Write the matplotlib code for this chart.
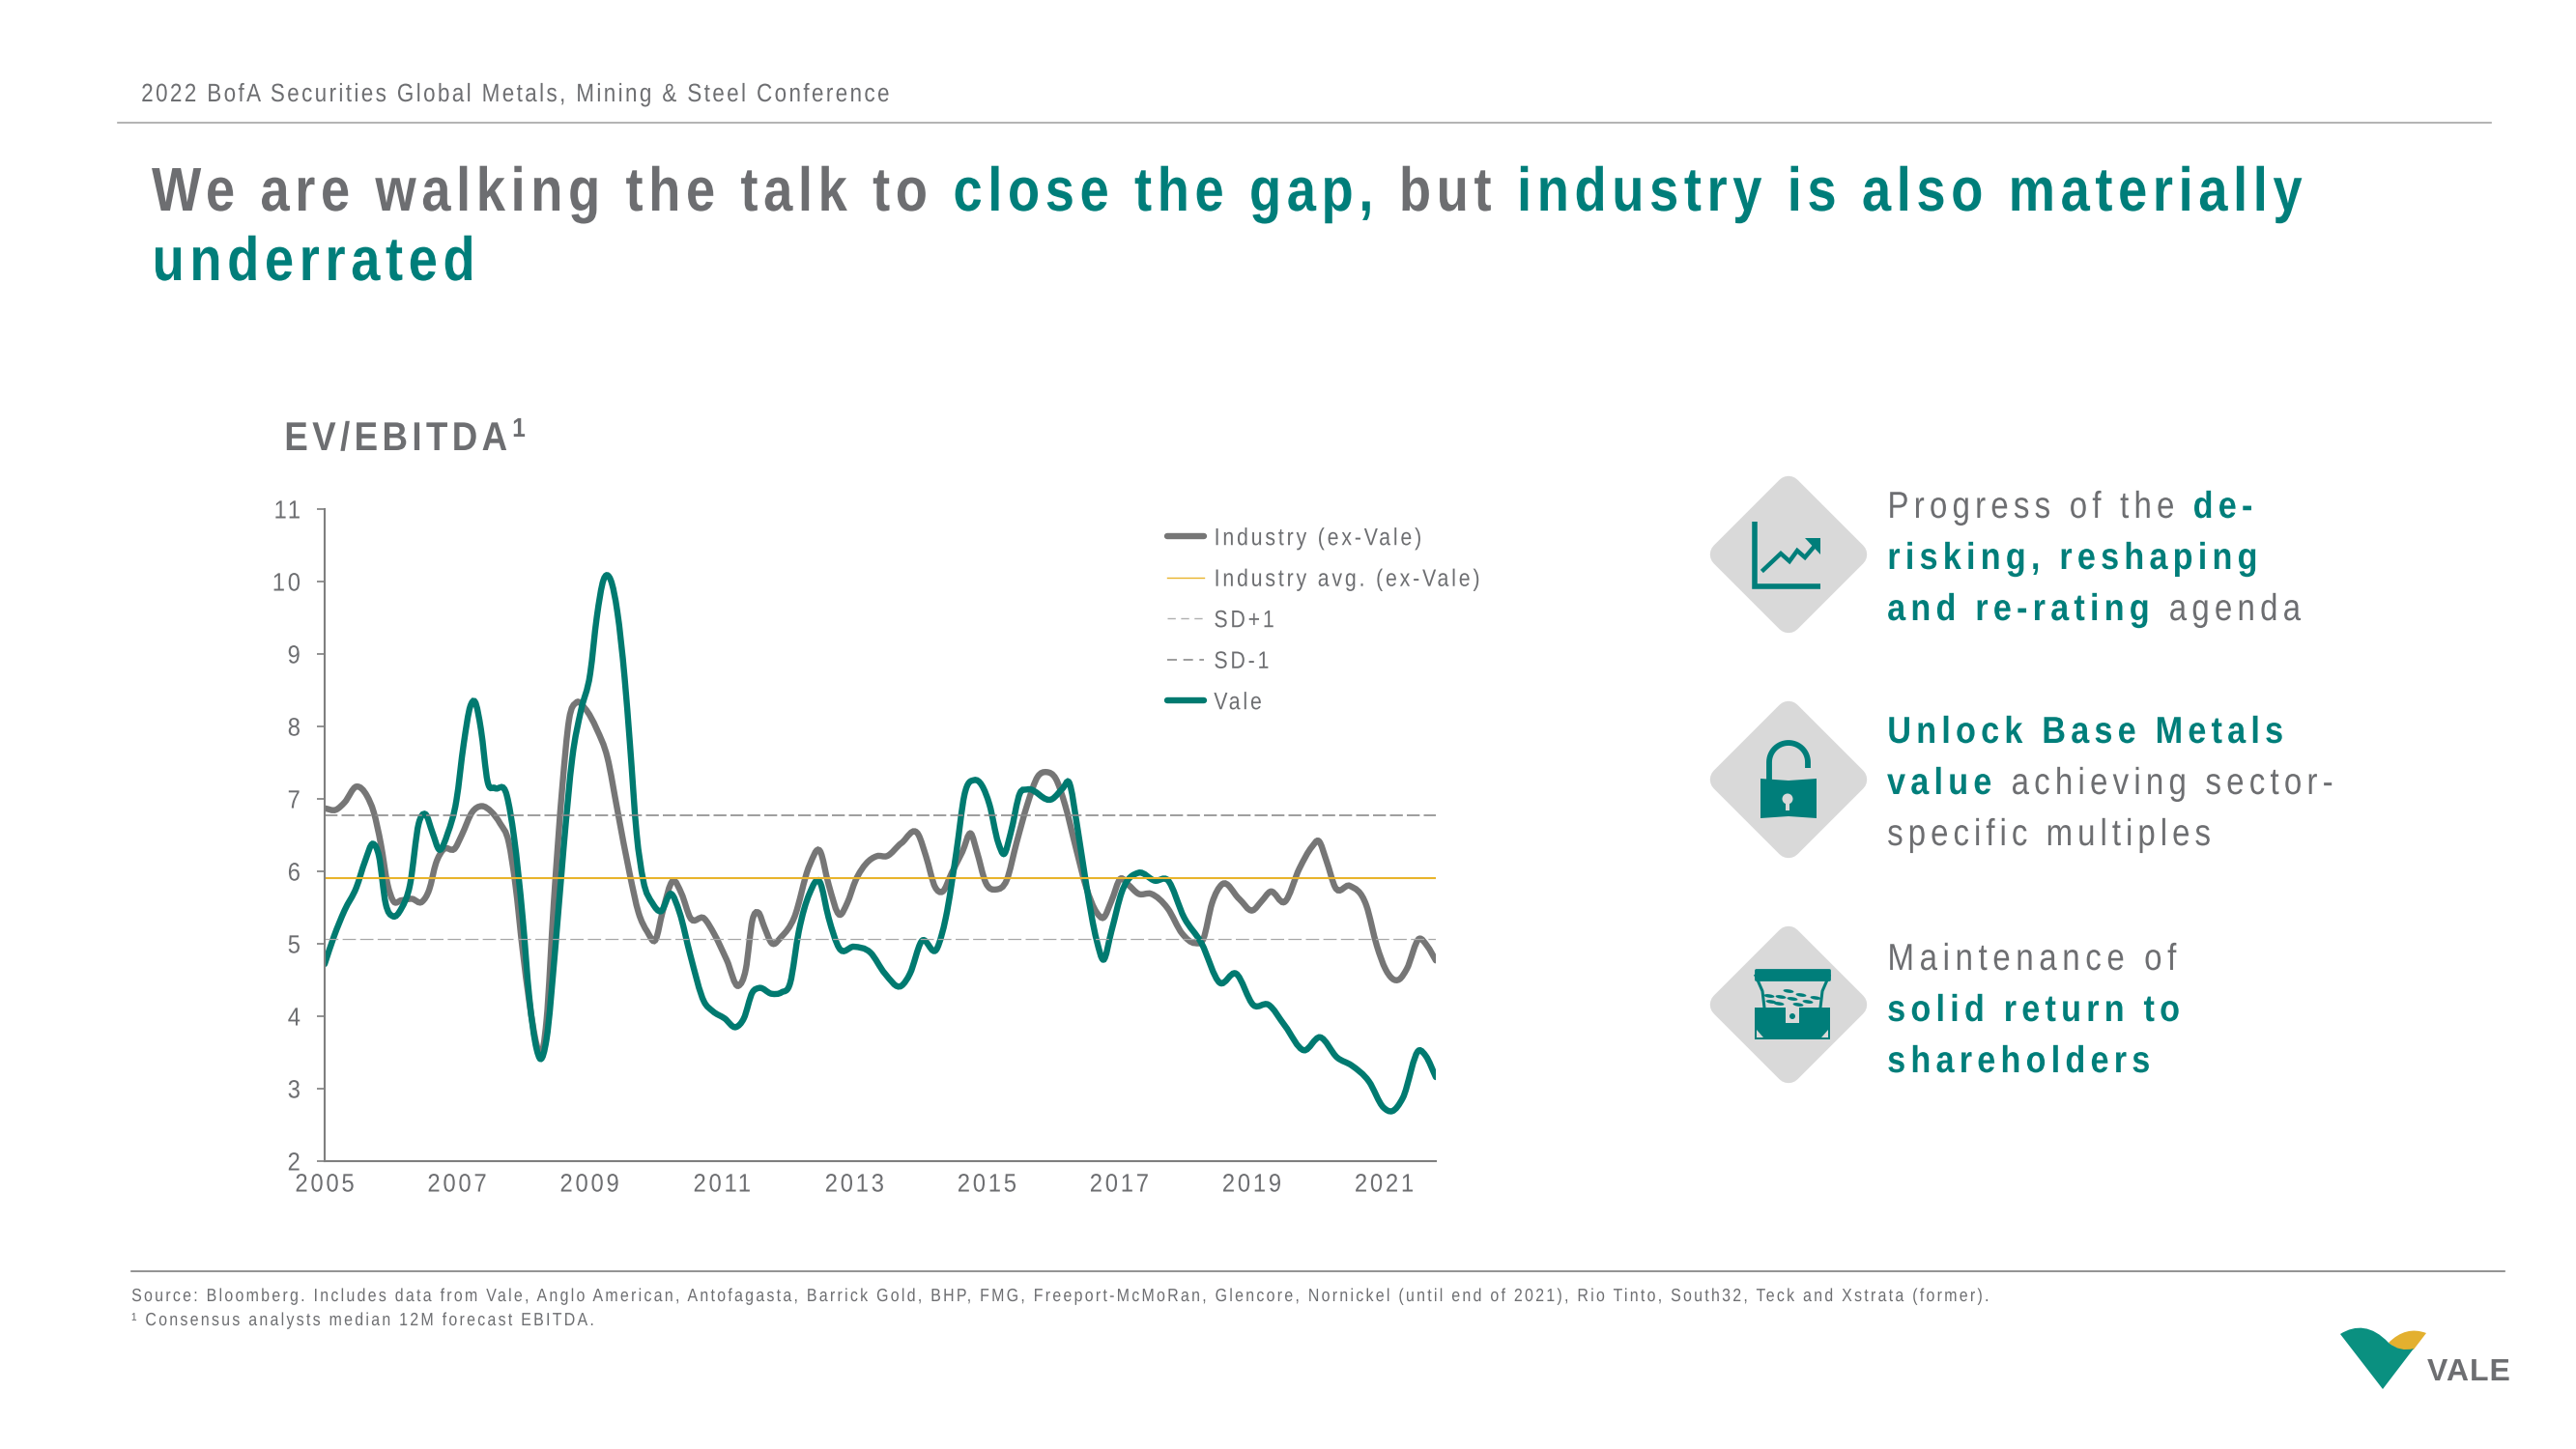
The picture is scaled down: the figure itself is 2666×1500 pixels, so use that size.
import numpy as np
import matplotlib
matplotlib.use("Agg")
import matplotlib.pyplot as plt
from matplotlib.lines import Line2D
from matplotlib.patches import PathPatch, Polygon, Rectangle, Circle, Ellipse
from matplotlib.path import Path
from matplotlib.patheffects import AbstractPathEffect
from matplotlib.transforms import IdentityTransform

plt.rcParams["font.family"] = ["Liberation Sans", "DejaVu Sans"]

# colours
GREY = "#6d6e71"
TEAL = "#007e7a"
LINE_TEAL = "#007a70"
LINE_GREY = "#767676"
GOLD = "#e9b42c"
DIAMOND = "#d9d9d9"

# data
industry_years = [2005.00, 2005.17, 2005.30, 2005.48, 2005.64, 2005.74, 2005.85, 2005.95, 2006.03, 2006.16,
                  2006.32, 2006.47, 2006.58, 2006.68, 2006.79, 2006.97, 2007.07, 2007.23, 2007.37, 2007.52,
                  2007.65, 2007.78, 2007.88, 2007.99, 2008.09, 2008.20, 2008.26, 2008.35, 2008.46, 2008.59,
                  2008.69, 2008.80, 2008.93, 2009.11, 2009.27, 2009.42, 2009.61, 2009.74, 2009.87, 2010.00,
                  2010.10, 2010.26, 2010.39, 2010.52, 2010.73, 2010.88, 2011.07, 2011.25, 2011.36, 2011.46,
                  2011.55, 2011.64, 2011.75, 2011.90, 2012.09, 2012.32, 2012.48, 2012.61, 2012.78, 2012.89,
                  2013.02, 2013.18, 2013.34, 2013.49, 2013.71, 2013.97, 2014.08, 2014.22, 2014.33, 2014.47,
                  2014.63, 2014.76, 2014.85, 2014.98, 2015.14, 2015.30, 2015.45, 2015.61, 2015.77, 2015.90,
                  2016.04, 2016.18, 2016.34, 2016.50, 2016.66, 2016.76, 2016.88, 2017.02, 2017.13, 2017.29,
                  2017.48, 2017.73, 2017.95, 2018.14, 2018.27, 2018.40, 2018.55, 2018.81, 2019.01, 2019.15,
                  2019.28, 2019.50, 2019.72, 2019.91, 2020.01, 2020.13, 2020.26, 2020.48, 2020.73, 2020.89,
                  2021.02, 2021.23, 2021.34, 2021.53, 2021.65, 2021.78]
industry_values = [6.87, 6.85, 6.95, 7.17, 7.04, 6.82, 6.37, 5.82, 5.60, 5.60,
                   5.62, 5.58, 5.75, 6.11, 6.30, 6.32, 6.50, 6.82, 6.90, 6.82,
                   6.66, 6.40, 5.82, 4.91, 4.20, 3.61, 3.45, 3.94, 5.56, 7.18,
                   8.09, 8.33, 8.25, 7.96, 7.57, 6.85, 5.95, 5.43, 5.17, 5.06,
                   5.43, 5.87, 5.69, 5.36, 5.35, 5.14, 4.78, 4.42, 4.65, 5.33,
                   5.43, 5.23, 5.01, 5.10, 5.36, 6.08, 6.28, 5.82, 5.40, 5.56,
                   5.88, 6.11, 6.21, 6.21, 6.39, 6.50, 6.21, 5.78, 5.72, 5.98,
                   6.27, 6.52, 6.27, 5.85, 5.75, 5.88, 6.40, 6.92, 7.31, 7.37,
                   7.28, 6.92, 6.34, 5.78, 5.43, 5.36, 5.59, 5.90, 5.82, 5.69,
                   5.69, 5.49, 5.14, 5.01, 5.07, 5.56, 5.82, 5.62, 5.46, 5.59,
                   5.72, 5.58, 6.04, 6.34, 6.42, 6.14, 5.78, 5.80, 5.53, 4.97,
                   4.65, 4.51, 4.65, 5.07, 4.97, 4.77]

vale_years = [2005.00, 2005.14, 2005.30, 2005.48, 2005.61, 2005.73, 2005.82, 2005.92, 2006.03, 2006.16,
              2006.29, 2006.42, 2006.52, 2006.63, 2006.73, 2006.86, 2006.99, 2007.10, 2007.20, 2007.27,
              2007.36, 2007.46, 2007.57, 2007.75, 2007.86, 2007.99, 2008.09, 2008.20, 2008.26, 2008.35,
              2008.48, 2008.61, 2008.74, 2008.87, 2009.01, 2009.11, 2009.21, 2009.32, 2009.42, 2009.53,
              2009.61, 2009.71, 2009.81, 2009.95, 2010.08, 2010.23, 2010.36, 2010.52, 2010.73, 2010.86,
              2011.04, 2011.21, 2011.33, 2011.46, 2011.56, 2011.75, 2011.90, 2012.03, 2012.16, 2012.32,
              2012.48, 2012.61, 2012.77, 2012.99, 2013.24, 2013.46, 2013.71, 2013.84, 2014.01, 2014.25,
              2014.38, 2014.54, 2014.66, 2014.81, 2015.04, 2015.17, 2015.26, 2015.36, 2015.50, 2015.61,
              2015.99, 2016.15, 2016.24, 2016.37, 2016.50, 2016.66, 2016.76, 2016.88, 2017.04, 2017.29,
              2017.54, 2017.73, 2017.98, 2018.24, 2018.52, 2018.76, 2019.03, 2019.25, 2019.50, 2019.79,
              2020.03, 2020.29, 2020.51, 2020.77, 2020.99, 2021.12, 2021.28, 2021.53, 2021.63, 2021.78]
vale_values = [4.72, 5.10, 5.46, 5.78, 6.14, 6.38, 6.21, 5.56, 5.38, 5.49,
               5.82, 6.66, 6.79, 6.53, 6.30, 6.53, 6.98, 7.76, 8.28, 8.34,
               7.96, 7.24, 7.15, 7.05, 6.47, 5.36, 4.26, 3.55, 3.41, 3.68,
               4.91, 6.34, 7.57, 8.22, 8.73, 9.51, 10.02, 10.02, 9.58, 8.67,
               7.76, 6.53, 5.88, 5.56, 5.45, 5.69, 5.43, 4.85, 4.20, 4.07,
               3.97, 3.85, 3.97, 4.33, 4.39, 4.31, 4.33, 4.46, 5.17, 5.69,
               5.85, 5.36, 4.94, 4.96, 4.88, 4.59, 4.42, 4.59, 5.03, 4.94,
               5.36, 6.27, 7.05, 7.26, 6.92, 6.40, 6.24, 6.53, 7.08, 7.13,
               7.00, 7.15, 7.23, 6.59, 5.82, 5.04, 4.78, 5.17, 5.72, 5.98,
               5.87, 5.88, 5.36, 5.01, 4.46, 4.59, 4.15, 4.16, 3.87, 3.53,
               3.71, 3.43, 3.32, 3.10, 2.74, 2.69, 2.87, 3.53, 3.45, 3.16]

industry_avg = 5.91
sd_plus = 6.77
sd_minus = 5.07

year_ticks = [2005, 2007, 2009, 2011, 2013, 2015, 2017, 2019, 2021]
value_ticks = [2, 3, 4, 5, 6, 7, 8, 9, 10, 11]
legend_labels = ["Industry (ex-Vale)", "Industry avg. (ex-Vale)", "SD+1", "SD-1", "Vale"]

header_text = "2022 BofA Securities Global Metals, Mining & Steel Conference"
source_text = ("Source: Bloomberg. Includes data from Vale, Anglo American, Antofagasta, Barrick Gold, BHP, FMG, "
               "Freeport-McMoRan, Glencore, Nornickel (until end of 2021), Rio Tinto, South32, Teck and Xstrata (former).")
note_text = "¹ Consensus analysts median 12M forecast EBITDA."

NARROW = 0.85  # the slide font is a narrow face with wide tracking


class Tracked(AbstractPathEffect):
    # matplotlib has no letter spacing, so squeeze and spread the glyphs at draw time
    def __init__(self, track, em, align=0.0, sx=NARROW):
        super().__init__()
        self.track, self.em, self.align, self.sx = track, em, align, sx

    def draw_path(self, renderer, gc, tpath, affine, rgbFace=None):
        v = affine.transform(tpath.vertices)
        codes = tpath.codes
        starts = np.flatnonzero(codes == Path.MOVETO)
        if len(starts) == 0:
            return
        real = codes != Path.CLOSEPOLY
        x0, x1 = v[real, 0].min(), v[real, 0].max()
        v[:, 0] = x0 + (v[:, 0] - x0) * self.sx
        ends = np.append(starts[1:], len(codes))
        offs = np.zeros(len(v))
        n, right = 0, None
        for s, e in zip(starts, ends):
            xs = v[s:e][codes[s:e] != Path.CLOSEPOLY, 0]
            lo, hi = xs.min(), xs.max()
            if right is None or (lo + hi) / 2 >= right:
                if right is not None:
                    n += 2 if lo - right > 0.17 * self.em else 1
                right = hi
            else:
                right = max(right, hi)
            offs[s:e] = n * self.track
        new_width = (x1 - x0) * self.sx + n * self.track
        v[:, 0] += offs + self.align * ((x1 - x0) - new_width)
        renderer.draw_path(gc, Path(v, codes), IdentityTransform(), rgbFace)


def smooth_path(x, y):
    # the chart lines are smoothed, so join the read values with bezier pieces
    x, y = np.asarray(x), np.asarray(y)
    m = np.gradient(y, x)
    verts, codes = [(x[0], y[0])], [Path.MOVETO]
    for i in range(len(x) - 1):
        h = x[i + 1] - x[i]
        verts += [(x[i] + h / 3, y[i] + m[i] * h / 3), (x[i + 1] - h / 3, y[i + 1] - m[i + 1] * h / 3), (x[i + 1], y[i + 1])]
        codes += [Path.CURVE4] * 3
    return Path(verts, codes)


fig = plt.figure(figsize=(26.66, 15), dpi=100)

# slide furniture lives in a full size axes in pixels
bg = fig.add_axes([0, 0, 1, 1])
bg.set_xlim(0, 2666)
bg.set_ylim(1500, 0)
bg.axis("off")
renderer = fig.canvas.get_renderer()


def runs(x, y, parts, size, track, sx=NARROW):
    # parts: (text, colour, weight), drawn one after the other on one baseline
    em = size * 100 / 72
    for s, color, weight in parts:
        run_sx = sx + 0.03 if weight == "bold" else sx
        t = bg.text(x, y, s, color=color, fontsize=size, fontweight=weight, va="baseline", ha="left")
        t.set_path_effects([Tracked(track, em, sx=run_sx)])
        x += t.get_window_extent(renderer).width * run_sx + track * (len(s) - 1) + 0.28 * em * run_sx + 2 * track


# header and title
runs(146, 105, [(header_text, GREY, "normal")], 19, 2.39)
bg.plot([122, 2578], [127, 127], color="#a6a6a6", lw=1.2)
runs(157, 218, [("We are walking the talk to", GREY, "bold"), ("close the gap,", TEAL, "bold"),
                ("but", GREY, "bold"), ("industry is also materially", TEAL, "bold")], 46, 5.6, sx=0.82)
runs(157, 290, [("underrated", TEAL, "bold")], 46, 5.6, sx=0.82)

# chart heading
runs(294, 466, [("EV/EBITDA", GREY, "bold")], 30, 4.4)
runs(530, 452, [("1", GREY, "bold")], 20, 0)

# chart
ax = fig.add_axes([336 / 2666, 1 - 1202 / 1500, (1486 - 336) / 2666, (1202 - 527) / 1500])
ax.patch.set_alpha(0)
ax.set_xlim(2005, 2021.78)
ax.set_ylim(2, 11)
ax.add_patch(PathPatch(smooth_path(industry_years, industry_values), fill=False, ec=LINE_GREY, lw=4.6, capstyle="round"))
ax.axhline(industry_avg, color=GOLD, lw=1.5)
ax.axhline(sd_plus, color="#8c8c8c", lw=1.2, dashes=(8, 2.5))
ax.axhline(sd_minus, color="#a8a8a8", lw=0.9, dashes=(11, 3.5))
ax.add_patch(PathPatch(smooth_path(vale_years, vale_values), fill=False, ec=LINE_TEAL, lw=4.6, capstyle="round"))

for side in ["top", "right"]:
    ax.spines[side].set_visible(False)
for side in ["left", "bottom"]:
    ax.spines[side].set_color("#7f7f7f")
    ax.spines[side].set_linewidth(1.5)
ax.set_xticks(year_ticks)
ax.set_xticklabels(year_ticks)
ax.set_yticks(value_ticks)
ax.tick_params(axis="x", length=0, pad=9, labelsize=19, labelcolor=GREY)
ax.tick_params(axis="y", length=6, width=1.2, color="#7f7f7f", pad=12, labelsize=19, labelcolor=GREY)
for lab in ax.get_xticklabels():
    lab.set_path_effects([Tracked(2.8, 26, 0.5, sx=0.9)])
for lab in ax.get_yticklabels():
    lab.set_path_effects([Tracked(2.8, 26, 1.0, sx=0.9)])

handles = [Line2D([], [], color=LINE_GREY, lw=4.6, solid_capstyle="round"),
           Line2D([], [], color=GOLD, lw=1.0),
           Line2D([], [], color="#b0b0b0", lw=1.0, dashes=(6, 4)),
           Line2D([], [], color="#8c8c8c", lw=1.2, dashes=(6, 4)),
           Line2D([], [], color=LINE_TEAL, lw=4.6, solid_capstyle="round")]
leg = ax.legend(handles, legend_labels, loc="upper left", bbox_to_anchor=(0.7585, 0.973), frameon=False, fontsize=18,
                handlelength=1.5, handletextpad=0.42, labelspacing=0.74, borderaxespad=0, borderpad=0)
for t in leg.get_texts():
    t.set_color(GREY)
    t.set_path_effects([Tracked(2.85, 25)])

# right hand column
for cy in [574, 807, 1040]:
    bg.add_patch(Polygon([(1851, cy - 68), (1919, cy), (1851, cy + 68), (1783, cy)], fc=DIAMOND, ec=DIAMOND,
                         lw=19, joinstyle="round"))

# rising chart icon
cx, cy = 1851, 574
bg.plot([cx - 35, cx - 35, cx + 33], [cy - 34, cy + 33, cy + 33], color=TEAL, lw=4, solid_joinstyle="miter", solid_capstyle="butt")
bg.plot([cx - 26, cx - 8, cx + 1, cx + 9, cx + 17, cx + 28], [cy + 16, cy - 1, cy + 7, cy - 4, cy + 3, cy - 10],
        color=TEAL, lw=3.2, solid_joinstyle="miter")
bg.add_patch(Polygon([(cx + 17, cy - 17), (cx + 33, cy - 17), (cx + 33, cy)], fc=TEAL, ec="none"))

# open padlock icon
cx, cy = 1851, 807
bg.add_patch(Polygon([(cx - 29, cy - 1), (cx, cy + 1), (cx + 29, cy - 1), (cx + 29, cy + 40), (cx, cy + 38), (cx - 29, cy + 40)], fc=TEAL, ec="none"))
shackle_t = np.linspace(np.pi, 0, 30)
bg.plot(np.r_[cx - 20, cx + 20 * np.cos(shackle_t), cx + 20], np.r_[cy + 2, cy - 18 - 20 * np.sin(shackle_t), cy - 12],
        color=TEAL, lw=4.2, solid_capstyle="butt")
bg.add_patch(Circle((cx - 1, cy + 20), 5.5, fc=DIAMOND, ec="none"))
bg.add_patch(Rectangle((cx - 3, cy + 21), 4, 11, fc=DIAMOND, ec="none"))

# treasure chest icon
cx, cy = 1855, 1040
bg.add_patch(Rectangle((cx - 39, cy + 3), 78, 33, fc=TEAL, ec="none"))
bg.add_patch(Rectangle((cx - 38, cy - 36), 76, 10, fc=TEAL, ec=TEAL, lw=2, joinstyle="round"))
bg.plot([cx - 38, cx - 31, cx - 29], [cy - 30, cy - 14, cy + 3], color=TEAL, lw=2.2)
bg.plot([cx + 38, cx + 31, cx + 29], [cy - 30, cy - 14, cy + 3], color=TEAL, lw=2.2)
for dx, dy in [(-22, -3), (-12, -8), (-4, -14), (-14, -1), (0, -6), (9, -10), (16, -3), (24, -7), (6, 0), (-24, -9)]:
    bg.add_patch(Ellipse((cx + dx, cy + dy), 11, 3.5, fc=TEAL, ec="none", angle=8))
bg.add_patch(Rectangle((cx - 7, cy + 3), 14, 16, fc=DIAMOND, ec="none"))
bg.add_patch(Circle((cx, cy + 12), 3, fc=TEAL, ec="none"))
bg.add_patch(Polygon([(cx - 37, cy + 34), (cx - 37, cy + 26), (cx - 30, cy + 34)], fc=DIAMOND, ec="none"))
bg.add_patch(Polygon([(cx + 37, cy + 34), (cx + 37, cy + 26), (cx + 30, cy + 34)], fc=DIAMOND, ec="none"))

runs(1953, 536, [("Progress of the", GREY, "normal"), ("de-", TEAL, "bold")], 28, 5.2)
runs(1953, 589, [("risking, reshaping", TEAL, "bold")], 28, 5.2)
runs(1953, 642, [("and re-rating", TEAL, "bold"), ("agenda", GREY, "normal")], 28, 5.2)
runs(1953, 769, [("Unlock Base Metals", TEAL, "bold")], 28, 5.2)
runs(1953, 822, [("value", TEAL, "bold"), ("achieving sector-", GREY, "normal")], 28, 5.2)
runs(1953, 875, [("specific multiples", GREY, "normal")], 28, 5.0)
runs(1953, 1004, [("Maintenance of", GREY, "normal")], 28, 5.6)
runs(1953, 1057, [("solid return to", TEAL, "bold")], 28, 5.2)
runs(1953, 1110, [("shareholders", TEAL, "bold")], 28, 5.2)

# footer
bg.plot([136, 2592], [1316, 1316], color="#7f7f7f", lw=1.2)
runs(136, 1347, [(source_text, GREY, "normal")], 13.5, 2.27)
runs(136, 1372, [(note_text, GREY, "normal")], 13.5, 2.27)

# logo
gold_logo = Path([(2472, 1390), (2490, 1372), (2511, 1380), (2498, 1397), (2484, 1401), (2472, 1390), (2472, 1390)],
                 [Path.MOVETO, Path.CURVE3, Path.CURVE3, Path.LINETO, Path.CURVE3, Path.CURVE3, Path.CLOSEPOLY])
teal_logo = Path([(2422, 1381), (2438, 1371), (2455, 1372), (2472, 1390), (2484, 1400), (2498, 1396), (2466, 1438), (2422, 1381)],
                 [Path.MOVETO, Path.CURVE4, Path.CURVE4, Path.CURVE4, Path.CURVE3, Path.CURVE3, Path.LINETO, Path.CLOSEPOLY])
bg.add_patch(PathPatch(gold_logo, fc="#e3b02f", ec="none"))
bg.add_patch(PathPatch(teal_logo, fc="#0a9080", ec="none"))
runs(2512, 1429, [("VALE", GREY, "bold")], 23, 1.0, sx=0.97)

fig.savefig("out.png", dpi=100)
